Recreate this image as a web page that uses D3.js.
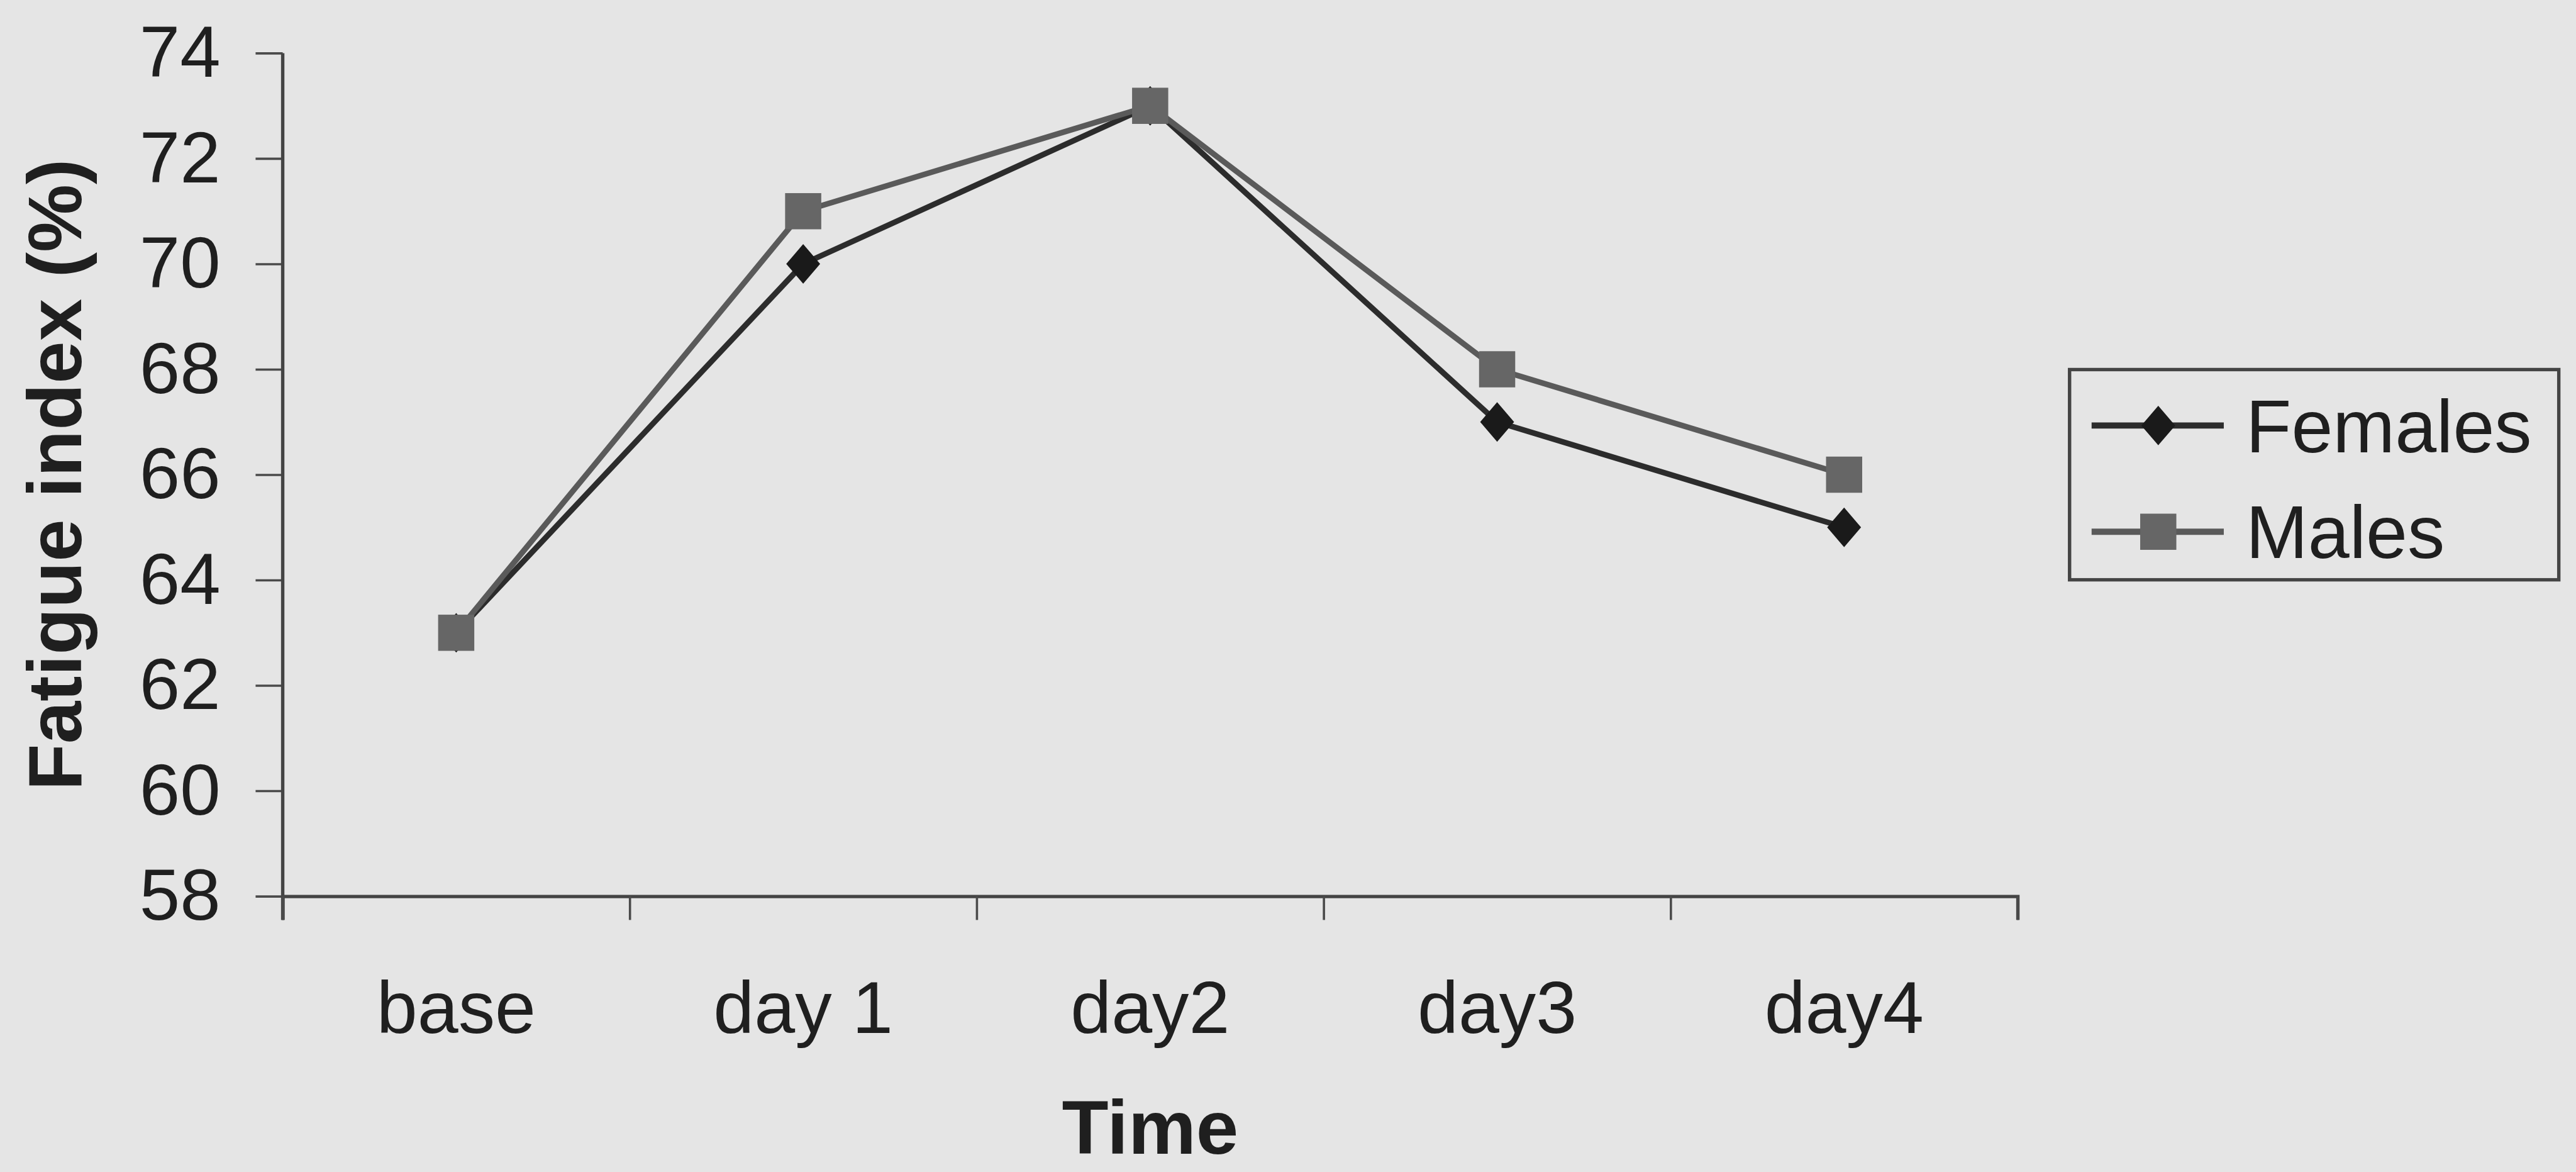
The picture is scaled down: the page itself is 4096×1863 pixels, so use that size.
<!DOCTYPE html>
<html>
<head>
<meta charset="utf-8">
<script src="https://cdn.jsdelivr.net/npm/d3@7"></script>
<style>
  html, body { margin: 0; padding: 0; background: #e5e5e5; overflow: hidden; }
  svg { display: block; }
</style>
</head>
<body>
<svg id="chart" width="4096" height="1863" viewBox="0 0 4559 2074"></svg>
<script>
// ---- data ----
const categories = ["base", "day 1", "day2", "day3", "day4"];
const females = [63, 70, 73, 67, 65];
const males = [63, 71, 73, 68, 66];
const yTicks = [58, 60, 62, 64, 66, 68, 70, 72, 74];
const seriesNames = ["Females", "Males"];
const xTitle = "Time";
const yTitle = "Fatigue index (%)";

// ---- layout (drawn in a 4559 x 2074 user space, scaled by the viewBox) ----
const W = 4559, H = 2074;
const plot = { left: 500, right: 3571, top: 94, bottom: 1586 };
const sans = "'Liberation Sans', Arial, Helvetica, sans-serif";
const ink = "#1f1f1f";

const svg = d3.select("#chart");
svg.append("rect").attr("width", W).attr("height", H).attr("fill", "#e5e5e5");

// ---- scales ----
const x = d3.scaleBand().domain(categories).range([plot.left, plot.right]).padding(0);
const xEdge = d3.scaleLinear().domain([0, categories.length]).range([plot.left, plot.right]);
const y = d3.scaleLinear().domain([58, 74]).range([plot.bottom, plot.top]);
const cx = (i) => x(categories[i]) + x.bandwidth() / 2;

// ---- y axis ----
const gy = svg.append("g").attr("transform", `translate(${plot.left},0)`)
  .call(d3.axisLeft(y).tickValues(yTicks).tickSize(48).tickPadding(62).tickFormat(d3.format("d")));
gy.select(".domain").remove();
gy.selectAll(".tick line").attr("stroke", "#4a4a4a").attr("stroke-width", 4);
gy.selectAll(".tick text")
  .attr("fill", ink)
  .style("font-family", sans)
  .style("font-size", "129px");
svg.append("line")
  .attr("x1", plot.left).attr("x2", plot.left)
  .attr("y1", y(74)).attr("y2", plot.bottom + 42)
  .attr("stroke", "#444").attr("stroke-width", 6);

// ---- x axis: line with ticks between categories ----
const gxEdge = svg.append("g").attr("transform", `translate(0,${plot.bottom})`)
  .call(d3.axisBottom(xEdge).tickValues(d3.range(0, categories.length + 1)).tickSize(42).tickFormat(""));
gxEdge.select(".domain").attr("stroke", "#444").attr("stroke-width", 6);
gxEdge.selectAll(".tick line").attr("stroke", "#4a4a4a").attr("stroke-width", 4);

// category labels
const gx = svg.append("g").attr("transform", `translate(0,${plot.bottom})`)
  .call(d3.axisBottom(x).tickSize(0).tickPadding(0));
gx.select(".domain").remove();
gx.selectAll(".tick text")
  .attr("y", 242).attr("dy", 0)
  .attr("fill", ink)
  .style("font-family", sans)
  .style("font-size", "130px");

// ---- axis titles ----
svg.append("text")
  .attr("x", (plot.left + plot.right) / 2).attr("y", 2042)
  .attr("text-anchor", "middle")
  .attr("fill", ink)
  .style("font-family", sans).style("font-weight", "bold").style("font-size", "135px")
  .text(xTitle);

svg.append("text")
  .attr("transform", `translate(143,${(plot.top + plot.bottom) / 2}) rotate(-90)`)
  .attr("text-anchor", "middle")
  .attr("fill", ink)
  .style("font-family", sans).style("font-weight", "bold").style("font-size", "135px")
  .text(yTitle);

// ---- series ----
const series = [
  { name: seriesNames[0], values: females, line: "#2c2c2c", mark: "#1a1a1a", shape: "diamond" },
  { name: seriesNames[1], values: males, line: "#5a5a5a", mark: "#666666", shape: "square" }
];
const lineGen = d3.line().x((d, i) => cx(i)).y(d => y(d));
const diamondPath = "M0,-35L30,0L0,35L-30,0Z";

function drawMarker(g, shape, color) {
  if (shape === "diamond") {
    g.append("path").attr("d", diamondPath).attr("fill", color);
  } else {
    g.append("rect").attr("x", -32).attr("y", -32).attr("width", 64).attr("height", 64).attr("fill", color);
  }
}

series.forEach(s => {
  const g = svg.append("g");
  g.append("path")
    .attr("d", lineGen(s.values))
    .attr("fill", "none")
    .attr("stroke", s.line)
    .attr("stroke-width", 10)
    .attr("stroke-linejoin", "round");
  s.values.forEach((v, i) => {
    const m = g.append("g").attr("transform", `translate(${cx(i)},${y(v)})`);
    drawMarker(m, s.shape, s.mark);
  });
});

// ---- legend ----
const legend = svg.append("g");
legend.append("rect")
  .attr("x", 3663).attr("y", 654).attr("width", 866).attr("height", 372)
  .attr("fill", "none").attr("stroke", "#444").attr("stroke-width", 6);

series.forEach((s, i) => {
  const ly = 753 + i * 188;
  const row = legend.append("g");
  row.append("line")
    .attr("x1", 3702).attr("x2", 3936).attr("y1", ly).attr("y2", ly)
    .attr("stroke", s.line).attr("stroke-width", 11);
  drawMarker(row.append("g").attr("transform", `translate(3820,${ly})`), s.shape, s.mark);
  row.append("text")
    .attr("x", 3975).attr("y", ly + 47)
    .attr("fill", ink)
    .style("font-family", sans).style("font-size", "132px")
    .text(s.name);
});
</script>
</body>
</html>
